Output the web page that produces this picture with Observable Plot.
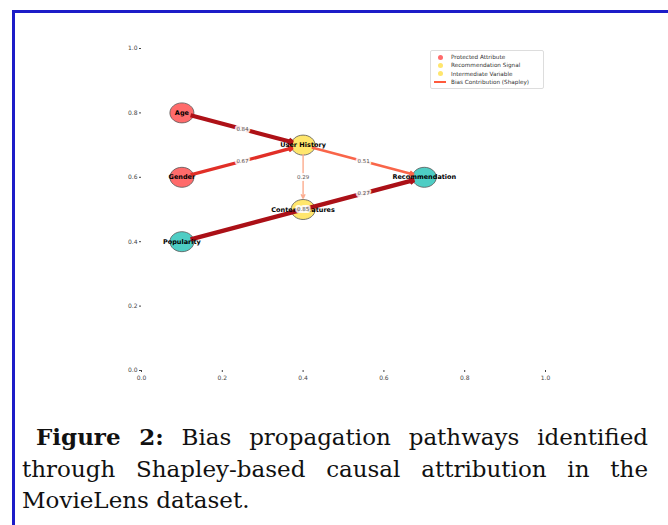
<!DOCTYPE html>
<html>
<head>
<meta charset="utf-8">
<script src="https://cdn.jsdelivr.net/npm/d3@7"></script>
<script src="https://cdn.jsdelivr.net/npm/@observablehq/plot@0.6"></script>
<style>
  html, body { margin: 0; padding: 0; background: #fff; width: 668px; height: 525px; overflow: hidden; }
  #frame { position: absolute; left: 12px; top: 10px; width: 720px; height: 600px; border-left: 3px solid #1c1cc8; border-top: 3px solid #1c1cc8; }
  #chart { position: absolute; left: 0; top: 0; }
  #legend { position: absolute; left: 430px; top: 50px; width: 106px; padding: 2px 3px; border: 1px solid #ddd; border-radius: 2px; background: rgba(255,255,255,0.9); font: 5.7px "DejaVu Sans", sans-serif; color: #333; }
  #legend .row { display: flex; align-items: center; height: 8.3px; }
  #legend .sw { width: 12px; display: flex; justify-content: center; margin-right: 5px; }
  #legend .dot { width: 5px; height: 5px; border-radius: 50%; }
  #legend .line { width: 12px; height: 2px; }
  #caption { position: absolute; left: 22px; top: 421px; width: 626px; font: 23px "DejaVu Serif", serif; line-height: 31.5px; text-align: justify; text-indent: 14px; color: #111; }
</style>
</head>
<body>
<div id="frame"></div>
<div id="chart"></div>
<div id="legend"></div>
<div id="caption"><b>Figure 2:</b> Bias propagation pathways identified through Shapley-based causal attribution in the MovieLens dataset.</div>
<script>
// Nodes
const nodeNames = ["Age", "Gender", "Popularity", "User History", "Content Features", "Recommendation"];
const nodeX = [0.1, 0.1, 0.1, 0.4, 0.4, 0.7];
const nodeY = [0.8, 0.6, 0.4, 0.7, 0.5, 0.6];
const nodeTypes = ["protected", "protected", "teal", "intermediate", "intermediate", "teal"];

// Edges (Shapley bias contributions)
const edgeSource = ["Age", "Gender", "User History", "User History", "Popularity", "Content Features"];
const edgeTarget = ["User History", "User History", "Recommendation", "Content Features", "Recommendation", "Recommendation"];
const edgeWeight = [0.84, 0.67, 0.51, 0.29, 0.85, 0.27];

// Axis ticks
const tickValues = [0, 0.2, 0.4, 0.6, 0.8, 1.0];

// Legend labels
const legendLabels = ["Protected Attribute", "Recommendation Signal", "Intermediate Variable", "Bias Contribution (Shapley)"];

const typeColor = { protected: "#ff6b6b", teal: "#4ecdc4", intermediate: "#ffe66d" };

const nodes = nodeNames.map((n, i) => ({ name: n, x: nodeX[i], y: nodeY[i], type: nodeTypes[i] }));
const byName = Object.fromEntries(nodes.map(d => [d.name, d]));
const edges = edgeSource.map((s, i) => ({
  x1: byName[s].x, y1: byName[s].y,
  x2: byName[edgeTarget[i]].x, y2: byName[edgeTarget[i]].y,
  w: edgeWeight[i]
}));
const edgesDrawOrder = edges.slice().sort((a, b) => a.w - b.w);

const ellipse = {
  draw(ctx, size) {
    const r = Math.sqrt(size / Math.PI);
    const rx = r * 1.2, ry = r, k = 0.5523;
    ctx.moveTo(rx, 0);
    ctx.bezierCurveTo(rx, ry * k, rx * k, ry, 0, ry);
    ctx.bezierCurveTo(-rx * k, ry, -rx, ry * k, -rx, 0);
    ctx.bezierCurveTo(-rx, -ry * k, -rx * k, -ry, 0, -ry);
    ctx.bezierCurveTo(rx * k, -ry, rx, -ry * k, rx, 0);
    ctx.closePath();
  }
};

const chart = Plot.plot({
  width: 668,
  height: 395,
  marginLeft: 141,
  marginRight: 123,
  marginTop: 48,
  marginBottom: 25,
  style: { fontFamily: "DejaVu Sans, sans-serif", fontSize: "6px", background: "transparent", color: "#444" },
  x: { domain: [0, 1], ticks: tickValues, tickFormat: d3.format(".1f"), tickSize: 2, tickPadding: 3, label: null, line: false },
  y: { domain: [0, 1], ticks: tickValues, tickFormat: d3.format(".1f"), tickSize: 2, tickPadding: 2, label: null, line: false },
  marks: [
    Plot.dot(nodes, { x: "x", y: "y", r: 10, symbol: ellipse, fill: d => typeColor[d.type], stroke: "#555", strokeWidth: 0.8 }),
    Plot.arrow(edgesDrawOrder, {
      x1: "x1", y1: "y1", x2: "x2", y2: "y2",
      stroke: d => d3.interpolateReds(d.w),
      strokeWidth: d => d.w * 5,
      headLength: 7,
      headAngle: 50,
      insetStart: 9,
      insetEnd: 11,
      strokeLinecap: "butt",
      strokeLinejoin: "miter"
    }),
    Plot.text(nodes, { x: "x", y: "y", text: "name", fontWeight: "bold", fontSize: 6.5, fill: "black" }),
    Plot.text(edges, {
      x: d => (d.x1 + d.x2) / 2,
      y: d => (d.y1 + d.y2) / 2,
      text: d => d.w.toFixed(2),
      fontSize: 5.5,
      fill: "#555",
      stroke: "white",
      strokeWidth: 4,
      strokeOpacity: 0.85
    })
  ]
});
document.getElementById("chart").appendChild(chart);

const legendSwatches = [
  { kind: "dot", color: "#ff6b6b" },
  { kind: "dot", color: "#ffe66d" },
  { kind: "dot", color: "#ffe66d" },
  { kind: "line", color: "#ff5a3c" }
];
const legend = document.getElementById("legend");
legendLabels.forEach((lab, i) => {
  const s = legendSwatches[i];
  const row = document.createElement("div");
  row.className = "row";
  row.innerHTML = `<span class="sw"><span class="${s.kind}" style="background:${s.color}"></span></span><span>${lab}</span>`;
  legend.appendChild(row);
});
</script>
</body>
</html>
